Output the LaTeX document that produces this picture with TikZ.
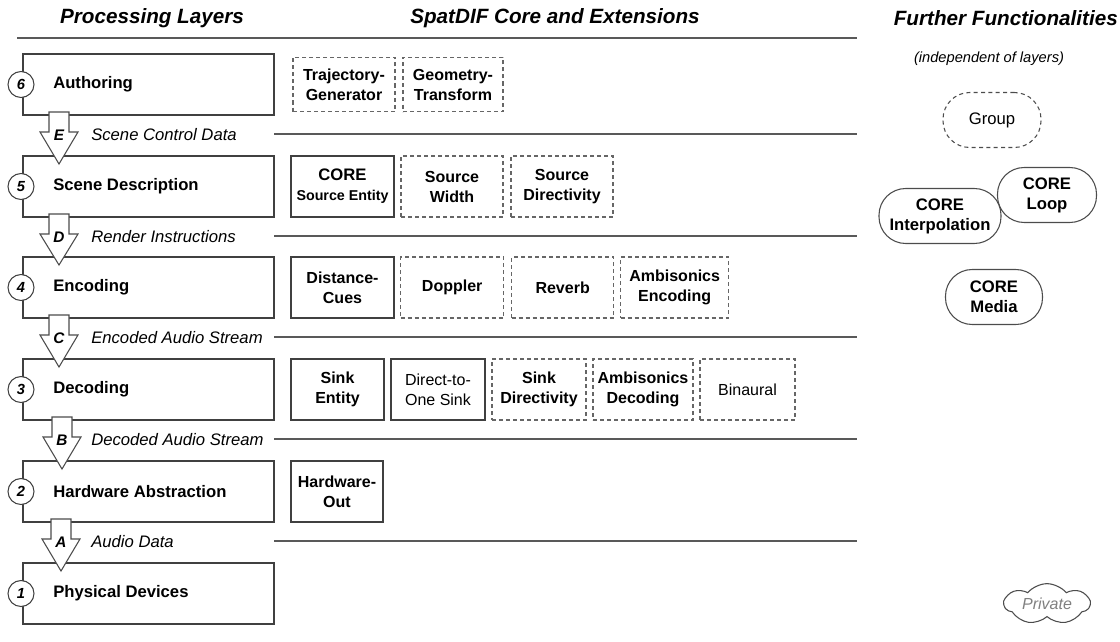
\documentclass[tikz,border=0pt]{standalone}
\usepackage{fontspec}
\setmainfont{Liberation Sans}
\usetikzlibrary{positioning,calc,shapes.symbols}

\begin{document}
\begin{tikzpicture}[x=0.75pt, y=-0.75pt,
    linha/.style={draw=black!65, line width=0.8pt},
    layer/.style={draw=black!75, line width=0.9pt, minimum width=188.25pt, minimum height=45.75pt, inner sep=0pt, outer sep=0pt, anchor=north west},
    lname/.style={font=\bfseries\fontsize{12.5}{15}\selectfont, inner sep=0pt, anchor=west},
    num/.style={circle, draw=black!75, fill=white, line width=0.8pt, minimum size=19.5pt, inner sep=0pt, font=\bfseries\itshape\fontsize{11}{13}\selectfont},
    seta/.style={draw=black!70, fill=white, line width=0.8pt, line join=miter},
    letra/.style={font=\bfseries\itshape\fontsize{11.5}{13}\selectfont, inner sep=0pt},
    rotulo/.style={font=\itshape\fontsize{12.5}{15}\selectfont, inner sep=0pt, anchor=west},
    ext/.style={draw=black!75, line width=0.9pt, minimum height=45.75pt, inner sep=0pt, outer sep=0pt, align=center, font=\bfseries\fontsize{12}{15}\selectfont},
    extd/.style={ext, draw=black!60, dash pattern=on 3pt off 2.25pt},
    leve/.style={font=\fontsize{12}{15}\selectfont},
    titulo/.style={font=\bfseries\itshape\fontsize{15.5}{18}\selectfont, inner sep=0pt},
    func/.style={rectangle, rounded corners=20pt, draw=black!70, line width=0.8pt, minimum height=41.25pt, align=center, inner sep=0pt, font=\bfseries\fontsize{12.5}{15}\selectfont},
  ]
    \useasboundingbox (0,0) rectangle (1120,642);

    % Titulos
    \node[titulo] (hL) at (152,18) {Processing Layers};
    \node[titulo] (hC) at (555,18) {SpatDIF Core and Extensions};
    \node[titulo, anchor=east] (hR) at (1118,18) {Further Functionalities};
    \coordinate (topA) at (17,38);
    \coordinate (topB) at (857,38);
    \draw[linha] (topA) -- (topB);

    % Camadas
    \foreach \n/\y/\t in {6/54/Authoring, 5/156/Scene Description, 4/257/Encoding,
                          3/359/Decoding, 2/461/Hardware Abstraction, 1/563/Physical Devices}{
      \node[layer] (L\n) at (23,\y) {};
      \node[lname] (T\n) at ($(L\n.west)+(30,0)$) {\t};
      \node[num] (N\n) at ($(L\n.west)+(-2,0)$) {\n};
    }

    % Setas entre camadas
    \foreach \u/\d/\o/\l/\txt in {6/5/36/E/Scene Control Data, 5/4/36/D/Render Instructions,
                                  4/3/36/C/Encoded Audio Stream, 3/2/39/B/Decoded Audio Stream,
                                  2/1/38/A/Audio Data}{
      \draw[seta] ($(L\u.south west)+(\o-10,-3)$) -- ++(0,20) -- ++(-9,0)
        -- ($(L\d.north west)+(\o,8)$) -- ($(L\u.south west)+(\o+19,17)$)
        -- ++(-9,0) -- ++(0,-20) -- cycle;
      \node[letra] (S\u) at ($(L\u.south west)+(\o,20)$) {\l};
      \node[rotulo] (R\u) at ($(L\u.south west)+(68,20)$) {\txt};
      \draw[linha] ($(L\u.south east)+(0,19)$) -- +(583,0);
    }

    % Autoria
    \node[extd, minimum width=76.5pt, minimum height=40.5pt, anchor=west] (traj) at ($(L6.east)+(19,0)$) {Trajectory-\\Generator};
    \node[extd, minimum width=75pt, minimum height=40.5pt, right=6pt of traj] (geom) {Geometry-\\Transform};

    % Descricao de cena
    \node[ext, minimum width=77.25pt, anchor=west] (srcent) at ($(L5.east)+(17,0)$)
      {{\fontsize{12.5}{15}\selectfont CORE}\\{\fontsize{10.7}{13}\selectfont Source Entity}};
    \node[extd, minimum width=76.5pt, right=5.25pt of srcent] (srcw) {Source\\Width};
    \node[extd, minimum width=76.5pt, right=6pt of srcw] (srcdir) {Source\\Directivity};

    % Codificacao
    \node[ext, minimum width=77.25pt, anchor=west] (dist) at ($(L4.east)+(17,0)$) {Distance-\\Cues};
    \node[extd, minimum width=77.25pt, right=5pt of dist] (dopp) {Doppler};
    \node[extd, minimum width=76.5pt, right=6pt of dopp] (rev) {Reverb};
    \node[extd, minimum width=81pt, right=5.25pt of rev] (ambenc) {Ambisonics\\Encoding};

    % Decodificacao
    \node[ext, minimum width=69.75pt, anchor=west] (sink) at ($(L3.east)+(17,0)$) {Sink\\Entity};
    \node[ext, leve, minimum width=70.5pt, right=5.25pt of sink] (d2o) {Direct-to-\\One Sink};
    \node[extd, minimum width=70.5pt, right=5.25pt of d2o] (sinkdir) {Sink\\Directivity};
    \node[extd, minimum width=75pt, right=5.25pt of sinkdir] (ambdec) {Ambisonics\\Decoding};
    \node[extd, leve, minimum width=71.25pt, right=5.25pt of ambdec] (bin) {Binaural};

    % Hardware
    \node[ext, minimum width=69pt, anchor=west] (hwout) at ($(L2.east)+(17,0)$) {Hardware-\\Out};

    % Funcionalidades
    \node[font=\itshape\fontsize{11}{13}\selectfont] (indep) at (989,59) {(independent of layers)};
    \node[func, dash pattern=on 3pt off 2.5pt, font=\fontsize{12.5}{15}\selectfont, minimum width=73.5pt] (group) at (992,120) {Group};
    \node[func, minimum width=74.25pt] (loop) at (1047,195) {CORE\\Loop};
    \node[func, minimum width=91.5pt] (interp) at (940,216) {CORE\\Interpolation};
    \node[func, minimum width=72.75pt] (media) at (994,297) {CORE\\Media};
    \node[cloud, draw=black!70, line width=0.8pt, cloud puffs=7, cloud puff arc=100, aspect=2.4,
          minimum width=64pt, minimum height=30pt, inner sep=0pt,
          font=\itshape\fontsize{12}{14}\selectfont, text=black!50] (priv) at (1047,604) {Private};
\end{tikzpicture}
\end{document}
